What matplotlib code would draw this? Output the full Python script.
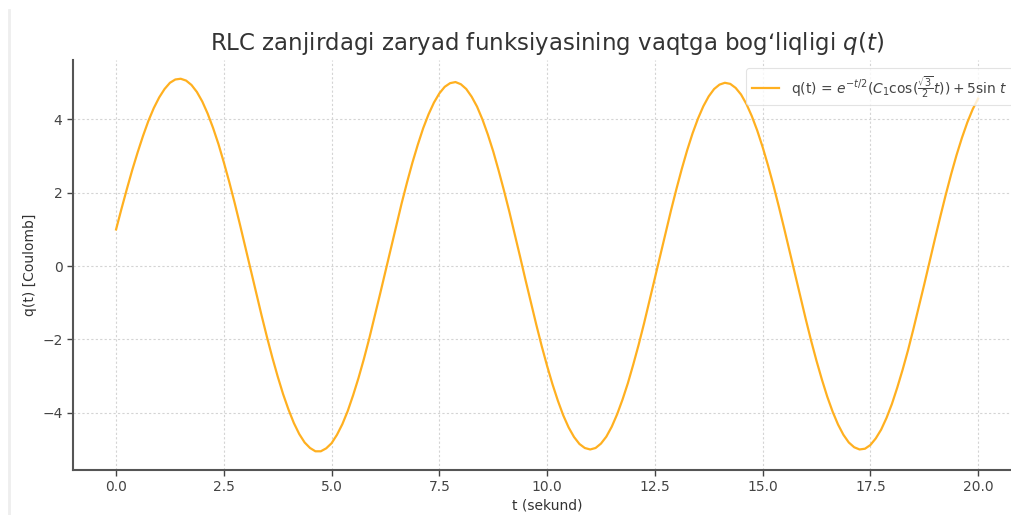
import matplotlib
matplotlib.use("Agg")
import matplotlib.pyplot as plt
from matplotlib.lines import Line2D

t_values = [
    0.0, 0.125, 0.25, 0.375, 0.5, 0.625, 0.75, 0.875,
    1.0, 1.125, 1.25, 1.375, 1.5, 1.625, 1.75, 1.875,
    2.0, 2.125, 2.25, 2.375, 2.5, 2.625, 2.75, 2.875,
    3.0, 3.125, 3.25, 3.375, 3.5, 3.625, 3.75, 3.875,
    4.0, 4.125, 4.25, 4.375, 4.5, 4.625, 4.75, 4.875,
    5.0, 5.125, 5.25, 5.375, 5.5, 5.625, 5.75, 5.875,
    6.0, 6.125, 6.25, 6.375, 6.5, 6.625, 6.75, 6.875,
    7.0, 7.125, 7.25, 7.375, 7.5, 7.625, 7.75, 7.875,
    8.0, 8.125, 8.25, 8.375, 8.5, 8.625, 8.75, 8.875,
    9.0, 9.125, 9.25, 9.375, 9.5, 9.625, 9.75, 9.875,
    10.0, 10.125, 10.25, 10.375, 10.5, 10.625, 10.75, 10.875,
    11.0, 11.125, 11.25, 11.375, 11.5, 11.625, 11.75, 11.875,
    12.0, 12.125, 12.25, 12.375, 12.5, 12.625, 12.75, 12.875,
    13.0, 13.125, 13.25, 13.375, 13.5, 13.625, 13.75, 13.875,
    14.0, 14.125, 14.25, 14.375, 14.5, 14.625, 14.75, 14.875,
    15.0, 15.125, 15.25, 15.375, 15.5, 15.625, 15.75, 15.875,
    16.0, 16.125, 16.25, 16.375, 16.5, 16.625, 16.75, 16.875,
    17.0, 17.125, 17.25, 17.375, 17.5, 17.625, 17.75, 17.875,
    18.0, 18.125, 18.25, 18.375, 18.5, 18.625, 18.75, 18.875,
    19.0, 19.125, 19.25, 19.375, 19.5, 19.625, 19.75, 19.875,
    20.0,
]
q_values = [
    1.00, 1.56, 2.10, 2.62, 3.10, 3.55, 3.96, 4.31,
    4.60, 4.83, 5.00, 5.09, 5.11, 5.06, 4.94, 4.75,
    4.49, 4.16, 3.77, 3.33, 2.83, 2.30, 1.73, 1.13,
    0.51, -0.11, -0.73, -1.34, -1.93, -2.49, -3.01, -3.49,
    -3.91, -4.28, -4.58, -4.81, -4.96, -5.05, -5.05, -4.97,
    -4.83, -4.60, -4.31, -3.95, -3.52, -3.05, -2.53, -1.97,
    -1.37, -0.76, -0.14, 0.49, 1.11, 1.71, 2.28, 2.82,
    3.31, 3.76, 4.14, 4.46, 4.71, 4.89, 4.99, 5.02,
    4.96, 4.83, 4.62, 4.35, 4.00, 3.59, 3.13, 2.61,
    2.06, 1.48, 0.87, 0.25, -0.38, -0.99, -1.60, -2.18,
    -2.72, -3.22, -3.67, -4.07, -4.40, -4.66, -4.85, -4.96,
    -5.00, -4.96, -4.84, -4.65, -4.38, -4.04, -3.64, -3.19,
    -2.68, -2.14, -1.56, -0.95, -0.33, 0.29, 0.91, 1.52,
    2.10, 2.65, 3.16, 3.62, 4.02, 4.36, 4.63, 4.83,
    4.95, 5.00, 4.97, 4.86, 4.68, 4.42, 4.09, 3.70,
    3.25, 2.75, 2.21, 1.63, 1.03, 0.41, -0.21, -0.83,
    -1.44, -2.03, -2.58, -3.09, -3.56, -3.97, -4.32, -4.60,
    -4.81, -4.94, -5.00, -4.98, -4.88, -4.70, -4.46, -4.14,
    -3.76, -3.31, -2.82, -2.29, -1.71, -1.11, -0.50, 0.13,
    0.75, 1.36, 1.95, 2.51, 3.03, 3.50, 3.92, 4.28,
    4.57,
]

x_ticks = [0, 2.5, 5, 7.5, 10, 12.5, 15, 17.5, 20]
y_ticks = [-4, -2, 0, 2, 4]

title = r"RLC zanjirdagi zaryad funksiyasining vaqtga bog‘liqligi $q(t)$"
xlabel = "t (sekund)"
ylabel = "q(t) [Coulomb]"
legend_label = r"q(t) = $e^{-t/2}(C_1\cos(\frac{\sqrt{3}}{2}t)) + 5\sin\,t$"

fig = plt.figure(figsize=(10.12, 5.15), dpi=100)
fig.patch.set_facecolor("white")
ax = fig.add_axes([0.0721, 0.0874, 0.937, 0.796])

ax.plot(t_values, q_values, color="#FFB020", lw=1.6, label=legend_label)

ax.grid(True, linestyle=(0, (2, 2)), color="#d4d4d4", lw=0.8)
for s in ["top", "right"]:
    ax.spines[s].set_visible(False)
for s in ["left", "bottom"]:
    ax.spines[s].set_color("#555555")
    ax.spines[s].set_linewidth(1.5)
ax.tick_params(colors="#444444", labelsize=10, length=4, width=1)
ax.set_xticks(x_ticks)
ax.set_yticks(y_ticks)
ax.set_xlim(-1, 21)
ax.set_ylim(-5.56, 5.62)

ax.set_title(title, fontsize=16.5, color="#333333", pad=7)
ax.set_xlabel(xlabel, fontsize=10, color="#333333", labelpad=3)
ax.set_ylabel(ylabel, fontsize=10, color="#333333")

leg = ax.legend(loc="upper right", fontsize=10, frameon=True, borderaxespad=0.6)
leg.get_frame().set_edgecolor("#dddddd")
leg.get_frame().set_linewidth(0.8)
for txt in leg.get_texts():
    txt.set_color("#444444")

fig.add_artist(Line2D([0.009, 0.009], [0.0, 0.98], transform=fig.transFigure,
                      color="#eeeeee", lw=2))

fig.savefig("out.png", dpi=100)
